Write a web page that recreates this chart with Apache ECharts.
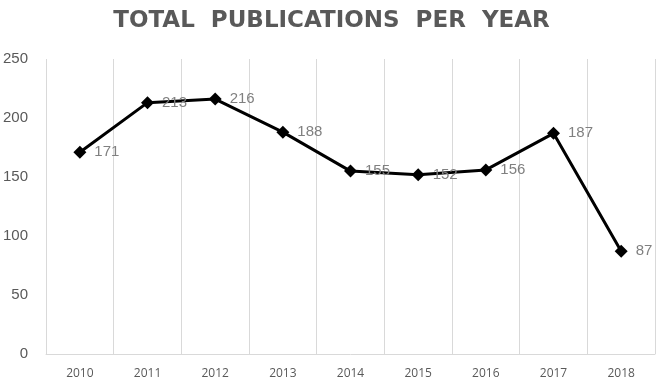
<!DOCTYPE html>
<html><head><meta charset="utf-8">
<script src="https://cdn.jsdelivr.net/npm/echarts@6/dist/echarts.min.js"></script>
<style>html,body{margin:0;padding:0;background:#fff}#c{width:663px;height:383px}</style>
</head><body><div id="c"></div>
<script>
const years = ['2010','2011','2012','2013','2014','2015','2016','2017','2018'];
const publications = [171,213,216,188,155,152,156,187,87];
const yTicks = {min:0, max:250, interval:50};
const chart = echarts.init(document.getElementById('c'));
chart.setOption({
  animation:false,
  title:{text:'TOTAL  PUBLICATIONS  PER  YEAR', left:'center', top:5,
    textStyle:{fontFamily:'DejaVu Sans', fontWeight:'bold', fontSize:23, color:'#595959'}},
  grid:{left:45, right:8, top:59, bottom:29},
  xAxis:{type:'category', data:years, boundaryGap:true,
    axisLine:{lineStyle:{color:'#d9d9d9'}}, axisTick:{show:false},
    axisLabel:{color:'#595959', fontSize:12, fontFamily:'Open Sans', margin:14},
    splitLine:{show:true, lineStyle:{color:'#d9d9d9'}}},
  yAxis:{type:'value', min:yTicks.min, max:yTicks.max, interval:yTicks.interval,
    axisLine:{show:false}, axisTick:{show:false}, splitLine:{show:false},
    axisLabel:{color:'#595959', fontSize:15, fontFamily:'Liberation Sans', margin:18}},
  series:[{type:'line', data:publications, symbol:'diamond', symbolSize:13,
    itemStyle:{color:'#000'}, lineStyle:{color:'#000', width:3},
    label:{show:true, position:'right', distance:8, color:'#808080', fontSize:15, fontFamily:'Liberation Sans'}}]
});
</script></body></html>
